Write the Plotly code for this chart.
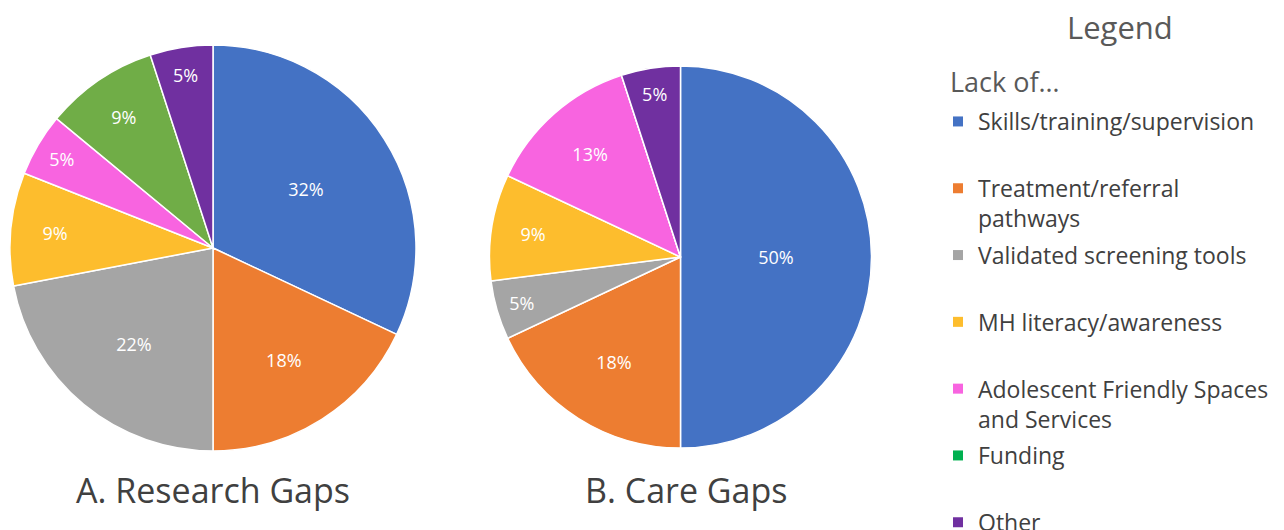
import plotly.graph_objects as go

categories = ["Skills/training/supervision", "Treatment/referral pathways", "Validated screening tools",
              "MH literacy/awareness", "Adolescent Friendly Spaces and Services", "Funding", "Other"]
legend_labels = ["Skills/training/supervision<br>\u00a0", "Treatment/referral<br>pathways",
                 "Validated screening tools<br>\u00a0", "MH literacy/awareness<br>\u00a0",
                 "Adolescent Friendly Spaces<br>and Services", "Funding<br>\u00a0", "Other"]
research_gaps = [32, 18, 22, 9, 5, 9, 5]
care_gaps = [50, 18, 5, 9, 13, 0, 5]

pie_colors = ["#4472C4", "#ED7D31", "#A5A5A5", "#FDBD2D", "#F864E0", "#70AD47", "#7030A0"]
legend_colors = ["#4472C4", "#ED7D31", "#A5A5A5", "#FDBD2D", "#F864E0", "#00B050", "#7030A0"]

FONT = "Open Sans, sans-serif"

fig = go.Figure()

def add_pie(values, domain):
    fig.add_trace(go.Pie(
        labels=categories, values=values, sort=False, direction="clockwise", rotation=0,
        marker=dict(colors=pie_colors, line=dict(color="white", width=1.5)),
        text=[f"{v}%" for v in values], textinfo="text", textposition="inside",
        insidetextorientation="horizontal",
        textfont=dict(color="white", size=18, family=FONT),
        domain=domain, showlegend=False, hoverinfo="label+text",
    ))

add_pie(research_gaps, dict(x=[10/1284, 416/1284], y=[1-451/530, 1-45/530]))
add_pie(care_gaps, dict(x=[489.5/1284, 871.5/1284], y=[1-448/530, 1-66/530]))

for name, lab, col in zip(categories, legend_labels, legend_colors):
    fig.add_trace(go.Scatter(x=[None], y=[None], mode="markers", name=lab, legendgroup=name,
                             marker=dict(symbol="square", size=10, color=col), hoverinfo="skip"))

fig.update_layout(
    width=1284, height=530, margin=dict(l=0, r=0, t=0, b=0, autoexpand=False),
    paper_bgcolor="white", plot_bgcolor="white",
    xaxis=dict(visible=False), yaxis=dict(visible=False),
    font=dict(family=FONT, color="#404040"),
    legend=dict(
        x=938/1284, xanchor="left", y=1-100/530, yanchor="top",
        font=dict(size=23, color="#404040", family=FONT),
        valign="top", tracegroupgap=4, bgcolor="rgba(0,0,0,0)", itemclick=False,
    ),
    annotations=[
        dict(text="Legend", x=1120/1284, y=1-27/530, xref="paper", yref="paper", showarrow=False,
             font=dict(size=31, color="#595959", family=FONT), xanchor="center", yanchor="middle"),
        dict(text="Lack of…", x=948/1284, y=1-82/530, xref="paper", yref="paper", showarrow=False,
             font=dict(size=27, color="#595959", family=FONT), xanchor="left", yanchor="middle"),
        dict(text="A. Research Gaps", x=213/1284, y=1-490/530, xref="paper", yref="paper", showarrow=False,
             font=dict(size=34, color="#404040", family=FONT), xanchor="center", yanchor="middle"),
        dict(text="B. Care Gaps", x=686/1284, y=1-490/530, xref="paper", yref="paper", showarrow=False,
             font=dict(size=34, color="#404040", family=FONT), xanchor="center", yanchor="middle"),
    ],
)

fig.write_html("out.html")
